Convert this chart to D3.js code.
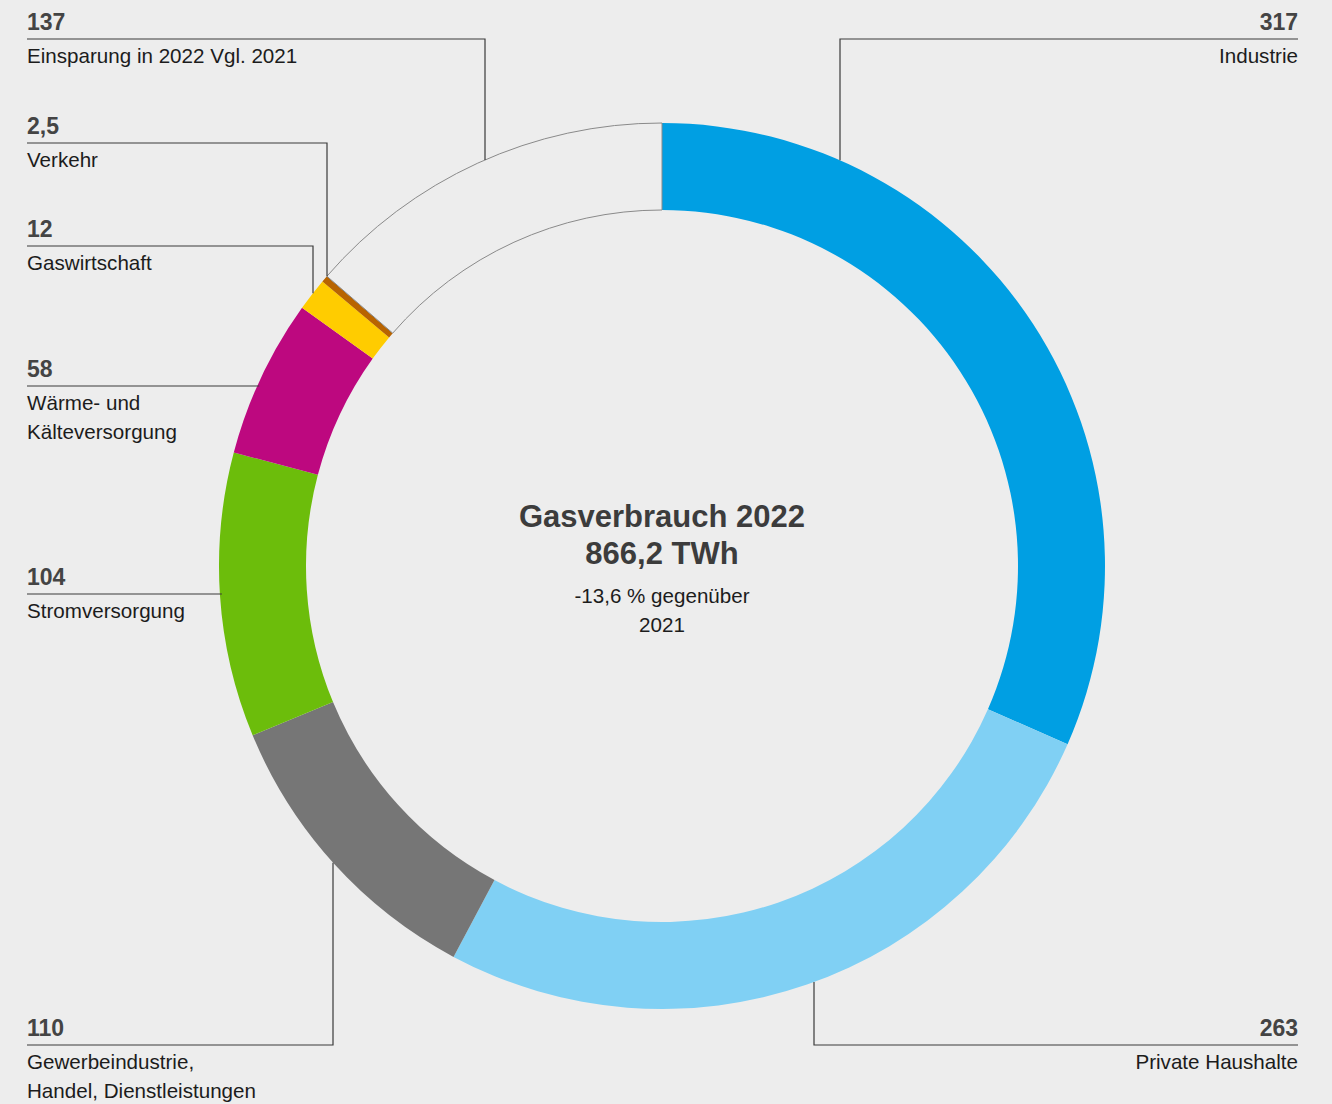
<!DOCTYPE html>
<html>
<head>
<meta charset="utf-8">
<script src="https://cdn.jsdelivr.net/npm/d3@7"></script>
<style>
  body { margin: 0; background: #ededed; }
  svg { display: block; font-family: "Liberation Sans", Arial, sans-serif; }
</style>
</head>
<body>
<script>
var width = 1332, height = 1104;

// data, clockwise from 12 o'clock
const sectors = ['Industrie', 'Private Haushalte', 'Gewerbeindustrie, Handel, Dienstleistungen',
  'Stromversorgung', 'Wärme- und Kälteversorgung', 'Gaswirtschaft', 'Verkehr', 'Einsparung in 2022 Vgl. 2021'];
const values = [317, 263, 110, 104, 58, 12, 2.5, 137];
const valueLabels = ['317', '263', '110', '104', '58', '12', '2,5', '137'];
const labelLines = [['Industrie'], ['Private Haushalte'], ['Gewerbeindustrie,', 'Handel, Dienstleistungen'],
  ['Stromversorgung'], ['Wärme- und', 'Kälteversorgung'], ['Gaswirtschaft'], ['Verkehr'], ['Einsparung in 2022 Vgl. 2021']];
const colors = ['#009fe3', '#80d0f4', '#767676', '#6cbd0b', '#bd087f', '#ffcc00', '#b86400', '#ededed'];
const centerTitle = ['Gasverbrauch 2022', '866,2 TWh'];
const centerSub = ['-13,6 % gegenüber', '2021'];

// label layout: y of the rule, side, where the leader leaves the rule
// kind 'v' = vertical leader at x, 'h' = rule runs on until it meets the ring
const layout = [
  {y: 39, side: 'right', kind: 'v', x: 840},
  {y: 1045, side: 'right', kind: 'v', x: 814},
  {y: 1045, side: 'left', kind: 'v', x: 333},
  {y: 594, side: 'left', kind: 'h'},
  {y: 386, side: 'left', kind: 'h'},
  {y: 246, side: 'left', kind: 'v', x: 313},
  {y: 143, side: 'left', kind: 'v', x: 327},
  {y: 39, side: 'left', kind: 'v', x: 485}
];

const cx = 662, cy = 566, rOuter = 443, rInner = 356;
const leftX = 27, rightX = 1298;

const svg = d3.select('body').append('svg')
  .attr('width', width).attr('height', height);

svg.append('rect').attr('width', width).attr('height', height).attr('fill', '#ededed');

const pie = d3.pie().value(d => d).sort(null);
const arcs = pie(values);
const arc = d3.arc().innerRadius(rInner).outerRadius(rOuter);

const g = svg.append('g').attr('transform', `translate(${cx},${cy})`);

g.selectAll('path.slice')
  .data(arcs)
  .enter()
  .append('path')
  .attr('class', 'slice')
  .attr('d', arc)
  .attr('fill', (d, i) => colors[i])
  .attr('stroke', (d, i) => i === values.length - 1 ? '#8a8a8a' : 'none')
  .attr('stroke-width', 1);

// leaders
const lines = svg.append('g')
  .attr('fill', 'none')
  .attr('stroke', '#3a3a3a')
  .attr('stroke-width', 1.2);

layout.forEach((l, i) => {
  let pts;
  if (l.kind === 'v') {
    const dx = l.x - cx;
    const dy = Math.sqrt(rOuter * rOuter - dx * dx);
    const yRing = l.y < cy ? cy - dy : cy + dy;
    const xEnd = l.side === 'left' ? leftX : rightX;
    pts = [[xEnd, l.y], [l.x, l.y], [l.x, yRing]];
  } else {
    const dy = l.y - cy;
    const dx = Math.sqrt(rOuter * rOuter - dy * dy);
    pts = [[leftX, l.y], [cx - dx + 2, l.y]];
  }
  lines.append('path').attr('d', d3.line()(pts));
});

// labels
const labels = svg.append('g');
layout.forEach((l, i) => {
  const x = l.side === 'left' ? leftX : rightX;
  const anchor = l.side === 'left' ? 'start' : 'end';
  labels.append('text')
    .attr('x', x).attr('y', l.y - 9)
    .attr('text-anchor', anchor)
    .attr('font-size', 23).attr('font-weight', 'bold')
    .attr('fill', '#444')
    .text(valueLabels[i]);
  labelLines[i].forEach((t, j) => {
    labels.append('text')
      .attr('x', x).attr('y', l.y + 24 + j * 29)
      .attr('text-anchor', anchor)
      .attr('font-size', 20.6)
      .attr('fill', '#1c1c1c')
      .text(t);
  });
});

// centre
centerTitle.forEach((t, j) => {
  svg.append('text')
    .attr('x', cx).attr('y', 527 + j * 37)
    .attr('text-anchor', 'middle')
    .attr('font-size', 31).attr('font-weight', 'bold')
    .attr('fill', '#3c3c3c')
    .text(t);
});
centerSub.forEach((t, j) => {
  svg.append('text')
    .attr('x', cx).attr('y', 603 + j * 29)
    .attr('text-anchor', 'middle')
    .attr('font-size', 20.6)
    .attr('fill', '#1c1c1c')
    .text(t);
});
</script>
</body>
</html>
